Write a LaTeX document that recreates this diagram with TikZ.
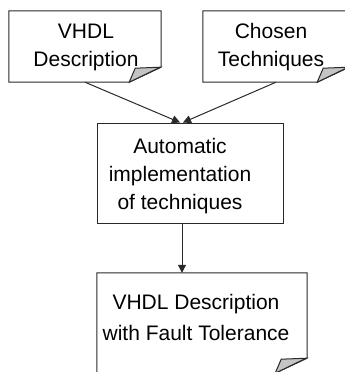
\documentclass[tikz,border=0pt]{standalone}
\usepackage{fontspec}
\setmainfont{Liberation Sans}
\usepackage{xcolor}
\usetikzlibrary{arrows.meta}

\definecolor{inkline}{HTML}{2A2A2A}
\definecolor{foldgray}{HTML}{C4C4C4}

% document outline with a turned-down corner
\newcommand{\foldeddoc}[1]{%
  \draw[edge] (#1.north west) -- (#1.north east) -- ([yshift=15pt]#1.south east)
    -- ([xshift=-32pt]#1.south east) -- (#1.south west) -- cycle;
  \filldraw[edge, fill=foldgray] ([xshift=-32pt]#1.south east)
    -- ([xshift=-26pt,yshift=14pt]#1.south east)
    -- ([xshift=-1pt,yshift=15pt]#1.south east) -- cycle;
}

\begin{document}
\begin{tikzpicture}[
    x=1pt, y=-1pt,
    edge/.style={draw=inkline, line width=1pt},
    textlbl/.style={inner sep=0pt, align=center, font=\fontsize{21}{28}\selectfont},
    docnode/.style={rectangle, inner sep=0pt},
    procnode/.style={rectangle, edge, inner sep=0pt},
    arr/.style={-{Triangle[length=8pt,width=8pt]}, edge}
]
\useasboundingbox[fill=white] (0,0) rectangle (345,372);

\node[docnode, minimum width=152pt, minimum height=71pt,
  label={[textlbl, xshift=1pt, yshift=-1pt]center:VHDL\\Description}] (vhdl) at (85,46.5) {};
\node[docnode, minimum width=146pt, minimum height=71pt,
  label={[textlbl, xshift=-5pt, yshift=-1pt]center:Chosen\\Techniques}] (chosen) at (276,46.5) {};
\node[procnode, minimum width=186pt, minimum height=100pt,
  label={[textlbl, xshift=-10pt, yshift=-3pt]center:Automatic\\implementation\\of techniques}] (auto) at (190,173) {};
\node[docnode, minimum width=210pt, minimum height=100pt,
  label={[textlbl, xshift=-6pt, yshift=6pt, font=\fontsize{21}{31}\selectfont]center:VHDL Description\\with Fault Tolerance}] (result) at (202,323) {};

\foldeddoc{vhdl}
\foldeddoc{chosen}
\foldeddoc{result}

\draw[arr] (vhdl.south) -- ([xshift=-10pt]auto.north);
\draw[arr] (chosen.south) -- ([xshift=-7pt]auto.north);
\draw[arr] ([xshift=-8pt]auto.south) -- ([xshift=-8pt]auto.south |- result.north);

\end{tikzpicture}
\end{document}
